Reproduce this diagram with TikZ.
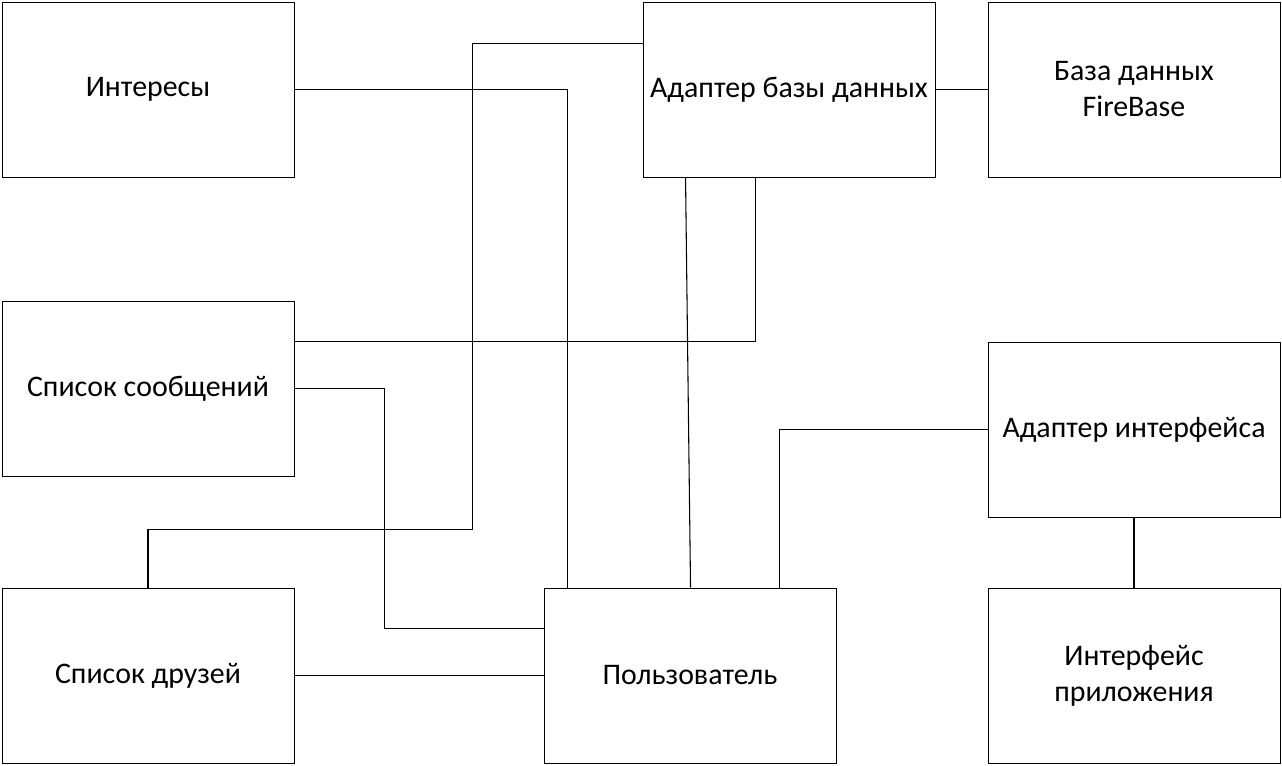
\documentclass[tikz,border=0pt]{standalone}
\usepackage{fontspec}
\setmainfont{Carlito}
\usetikzlibrary{positioning,calc}

\begin{document}
\begin{tikzpicture}[
  x=0.75pt, y=-0.75pt,
  font=\fontsize{22.4}{27}\selectfont,
  block/.style={draw, line width=0.7pt, minimum width=219pt, minimum height=131.25pt, align=center, inner sep=2pt},
  link/.style={line width=0.8pt}
]
\useasboundingbox (0,0) rectangle (1282,765);

% ============================================================
% LEFT COLUMN
% ============================================================
\node[block] (ints) at (148,89.5) {Интересы};
\node[block] (msgs) at (148,388.5) {Список сообщений};
\node[block] (friends) at (148,675.5) {Список друзей};

% ============================================================
% MIDDLE: database adapter and user
% ============================================================
\node[block] (dbad) at (789,89.5) {Адаптер базы данных};
\node[block] (user) at (690,675.5) {Пользователь};

% ============================================================
% RIGHT COLUMN
% ============================================================
\node[block] (fb) at (1134,89.5) {База данных\\FireBase};
\node[block] (ifad) at (1134,429.5) {Адаптер интерфейса};
\node[block] (app) at (1134,675.5) {Интерфейс\\приложения};

% ============================================================
% CONNECTIONS
% ============================================================
\draw[link] (ints.east) -| ($(user.north west)+(24,0)$);
\draw[link] ($(dbad.north west)+(0,42)$) -- ++(-170,0) |- ($(friends.north)+(0,-58)$) -- (friends.north);
\draw[link] ($(dbad.south west)+(43,0)$) -- ($(user.north west)+(147,0)$);
\draw[link] ($(dbad.south west)+(113,0)$) |- ($(msgs.north east)+(0,41)$);
\draw[link] (dbad.east) -- (fb.west);
\draw[link] (msgs.east) -- ++(90,0) |- ($(user.north west)+(0,41)$);
\draw[link] (ifad.west) -| ($(user.north west)+(236,0)$);
\draw[link] (ifad.south) -- (app.north);
\draw[link] (friends.east) -- (user.west);

\end{tikzpicture}
\end{document}
